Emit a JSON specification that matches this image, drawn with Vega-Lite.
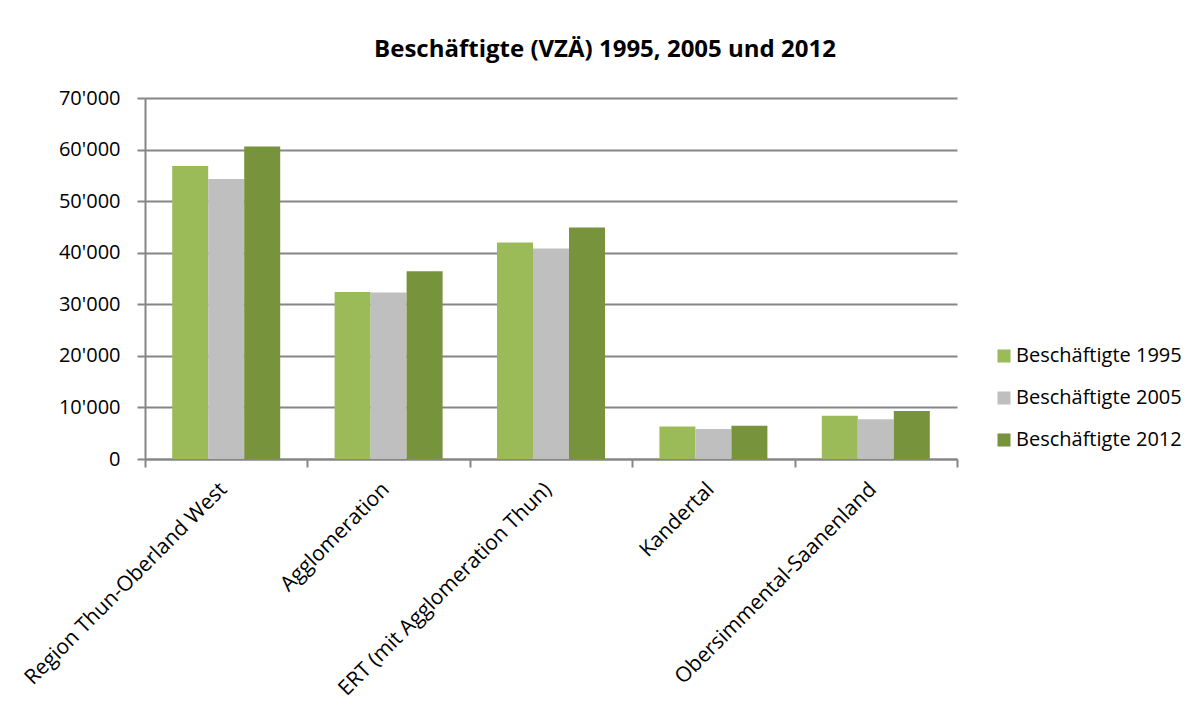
{
  "$schema": "https://vega.github.io/schema/vega-lite/v6.json",
  "width": 812,
  "height": 361,
  "autosize": "none",
  "padding": {"left": 145, "top": 98, "right": 234, "bottom": 263},
  "background": "white",
  "title": {
    "text": "Beschäftigte (VZÄ) 1995, 2005 und 2012",
    "font": "Open Sans",
    "fontSize": 24,
    "fontWeight": "bold",
    "color": "#000000",
    "anchor": "middle",
    "dx": 54,
    "offset": 26
  },
  "data": {
    "values": [
      {"Gebiet": "Region Thun-Oberland West", "Serie": "Beschäftigte 1995", "Wert": 56800},
      {"Gebiet": "Region Thun-Oberland West", "Serie": "Beschäftigte 2005", "Wert": 54300},
      {"Gebiet": "Region Thun-Oberland West", "Serie": "Beschäftigte 2012", "Wert": 60600},
      {"Gebiet": "Agglomeration", "Serie": "Beschäftigte 1995", "Wert": 32400},
      {"Gebiet": "Agglomeration", "Serie": "Beschäftigte 2005", "Wert": 32300},
      {"Gebiet": "Agglomeration", "Serie": "Beschäftigte 2012", "Wert": 36400},
      {"Gebiet": "ERT (mit Agglomeration Thun)", "Serie": "Beschäftigte 1995", "Wert": 42000},
      {"Gebiet": "ERT (mit Agglomeration Thun)", "Serie": "Beschäftigte 2005", "Wert": 40800},
      {"Gebiet": "ERT (mit Agglomeration Thun)", "Serie": "Beschäftigte 2012", "Wert": 44900},
      {"Gebiet": "Kandertal", "Serie": "Beschäftigte 1995", "Wert": 6300},
      {"Gebiet": "Kandertal", "Serie": "Beschäftigte 2005", "Wert": 5800},
      {"Gebiet": "Kandertal", "Serie": "Beschäftigte 2012", "Wert": 6450},
      {"Gebiet": "Obersimmental-Saanenland", "Serie": "Beschäftigte 1995", "Wert": 8400},
      {"Gebiet": "Obersimmental-Saanenland", "Serie": "Beschäftigte 2005", "Wert": 7700},
      {"Gebiet": "Obersimmental-Saanenland", "Serie": "Beschäftigte 2012", "Wert": 9300}
    ]
  },
  "mark": {"type": "bar"},
  "encoding": {
    "x": {
      "field": "Gebiet",
      "type": "nominal",
      "sort": ["Region Thun-Oberland West", "Agglomeration", "ERT (mit Agglomeration Thun)", "Kandertal", "Obersimmental-Saanenland"],
      "scale": {"paddingInner": 0, "paddingOuter": 0},
      "axis": {
        "title": null,
        "tickBand": "extent",
        "tickSize": 8,
        "tickColor": "#868686",
        "tickWidth": 2,
        "domainColor": "#868686",
        "domainWidth": 2,
        "labelAngle": -45,
        "labelAlign": "right",
        "labelBaseline": "middle",
        "labelFont": "Open Sans",
        "labelFontSize": 21,
        "labelColor": "#000000",
        "labelPadding": 19,
        "labelOffset": -3,
        "labelLimit": 0
      }
    },
    "xOffset": {
      "field": "Serie",
      "type": "nominal",
      "scale": {"paddingInner": 0, "paddingOuter": 0.7556}
    },
    "y": {
      "field": "Wert",
      "type": "quantitative",
      "scale": {"domain": [0, 70000], "nice": false},
      "axis": {
        "title": null,
        "values": [0, 10000, 20000, 30000, 40000, 50000, 60000, 70000],
        "labelExpr": "replace(format(datum.value, ','), ',', \"'\")",
        "tickSize": 8,
        "tickColor": "#868686",
        "tickWidth": 2,
        "domainColor": "#868686",
        "domainWidth": 2,
        "grid": true,
        "gridColor": "#868686",
        "gridWidth": 2,
        "labelFont": "Open Sans",
        "labelFontSize": 20,
        "labelColor": "#000000",
        "labelPadding": 17
      }
    },
    "color": {
      "field": "Serie",
      "type": "nominal",
      "scale": {
        "domain": ["Beschäftigte 1995", "Beschäftigte 2005", "Beschäftigte 2012"],
        "range": ["#9BBB59", "#BFBFBF", "#77933C"]
      },
      "legend": {
        "title": null,
        "orient": "none",
        "legendX": 849,
        "legendY": 248,
        "padding": 0,
        "symbolType": "square",
        "symbolSize": 170,
        "symbolStrokeWidth": 0,
        "symbolOpacity": 1,
        "labelFont": "Open Sans",
        "labelFontSize": 20,
        "labelColor": "#000000",
        "labelOffset": 2,
        "labelLimit": 0,
        "rowPadding": 22
      }
    }
  },
  "config": {
    "view": {"stroke": null}
  }
}
